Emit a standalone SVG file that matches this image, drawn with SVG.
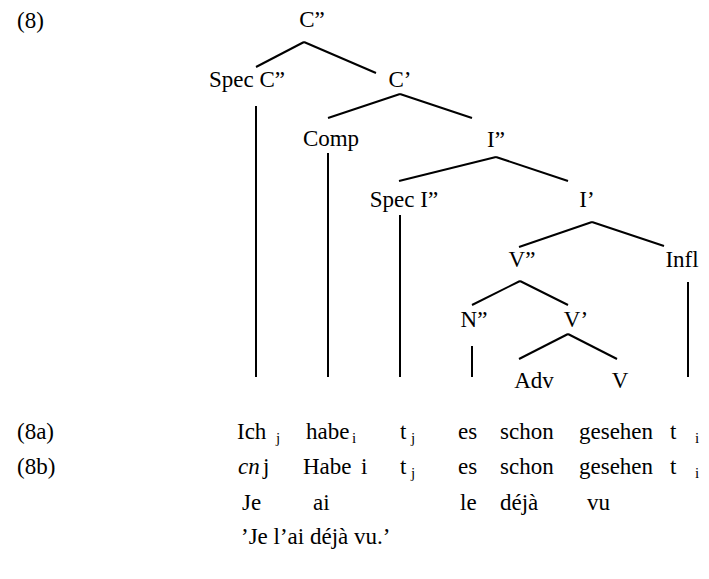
<svg xmlns="http://www.w3.org/2000/svg" width="709" height="579" viewBox="0 0 709 579">
<style>
text{font-family:'Liberation Serif','Tinos','Noto Serif','DejaVu Serif','Times New Roman',Times,serif;font-size:23px;fill:#000}
.m{text-anchor:middle}
.s{font-size:15px}
.it{font-style:italic}
line{stroke:#000;stroke-width:2;stroke-linecap:butt}
</style>
<rect width="709" height="579" fill="#fff"/>
<text x="17" y="28">(8)</text>
<g id="n-Cbar2"><text class="m" x="312" y="27">C”</text></g>
<g id="n-SpecC"><text class="m" x="247" y="87">Spec C”</text></g>
<g id="n-Cbar1"><text class="m" x="400" y="87">C’</text></g>
<g id="n-Comp"><text class="m" x="331" y="146">Comp</text></g>
<g id="n-Ibar2"><text class="m" x="496" y="147">I”</text></g>
<g id="n-SpecI"><text class="m" x="404" y="207">Spec I”</text></g>
<g id="n-Ibar1"><text class="m" x="587" y="207">I’</text></g>
<g id="n-Vbar2"><text class="m" x="522" y="267">V”</text></g>
<g id="n-Infl"><text class="m" x="682" y="267">Infl</text></g>
<g id="n-Nbar2"><text class="m" x="474" y="327">N”</text></g>
<g id="n-Vbar1"><text class="m" x="576" y="327">V’</text></g>
<g id="n-Adv"><text class="m" x="534" y="388">Adv</text></g>
<g id="n-V"><text class="m" x="620" y="388">V</text></g>
<g id="connectors">
<line x1="304" y1="42" x2="256" y2="67"/>
<line x1="304" y1="42" x2="376" y2="73"/>
<line x1="400" y1="94" x2="328" y2="118"/>
<line x1="400" y1="94" x2="472" y2="118"/>
<line x1="496" y1="157" x2="399" y2="181"/>
<line x1="496" y1="157" x2="568" y2="181"/>
<line x1="592" y1="222" x2="519" y2="247"/>
<line x1="592" y1="222" x2="664" y2="246"/>
<line x1="520" y1="281" x2="472" y2="305"/>
<line x1="520" y1="281" x2="568" y2="305"/>
<line x1="568" y1="334" x2="519" y2="359"/>
<line x1="568" y1="334" x2="617" y2="359"/>
<line x1="256" y1="106" x2="256" y2="377"/>
<line x1="328" y1="153" x2="328" y2="377"/>
<line x1="400" y1="215" x2="400" y2="377"/>
<line x1="472" y1="346" x2="472" y2="377"/>
<line x1="688" y1="282" x2="688" y2="377"/>
</g>
<g id="row-8a">
<text x="17" y="439">(8a)</text>
<text x="237" y="439">Ich</text><text class="s" x="276" y="443">j</text>
<text x="306" y="439">habe</text><text class="s" x="352" y="443">i</text>
<text x="400" y="439">t</text><text class="s" x="411" y="443">j</text>
<text x="458" y="439">es</text>
<text x="500" y="439">schon</text>
<text x="579" y="439">gesehen</text>
<text x="670" y="439">t</text><text class="s" x="695" y="443">i</text>
</g>
<g id="row-8b">
<text x="17" y="474">(8b)</text>
<text class="it" x="238" y="474">cn</text><text x="263" y="474">j</text>
<text x="303" y="474">Habe</text><text x="361" y="474">i</text>
<text x="400" y="474">t</text><text class="s" x="411" y="478">j</text>
<text x="458" y="474">es</text>
<text x="500" y="474">schon</text>
<text x="579" y="474">gesehen</text>
<text x="670" y="474">t</text><text class="s" x="695" y="478">i</text>
</g>
<g id="row-fr">
<text x="242" y="510">Je</text>
<text x="313" y="510">ai</text>
<text x="460" y="510">le</text>
<text x="500" y="510">déjà</text>
<text x="587" y="510">vu</text>
</g>
<g id="row-gloss">
<text x="241" y="544">’Je l’ai déjà vu.’</text>
</g>
</svg>
